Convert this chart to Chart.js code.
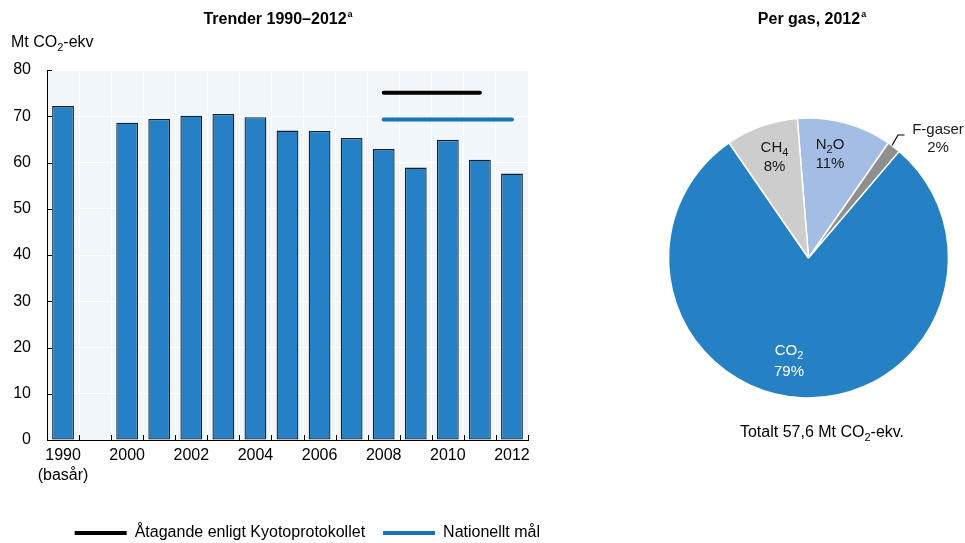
<!DOCTYPE html>
<html>
<head>
<meta charset="utf-8">
<script src="https://cdn.jsdelivr.net/npm/chart.js@4.4.0/dist/chart.umd.min.js"></script>
<style>
html, body { margin: 0; padding: 0; background: #fff; overflow: hidden; width: 965px; height: 543px; }
#trend { position: absolute; left: 0; top: 0; width: 558px; height: 551px; }
#gas { position: absolute; left: 557px; top: 0; width: 408px; height: 543px; }
</style>
</head>
<body>
<div id="trend"><canvas id="trendChart"></canvas></div>
<div id="gas"><canvas id="gasChart"></canvas></div>
<script>
// data
const years = ['1990', '', '2000', '2001', '2002', '2003', '2004', '2005', '2006', '2007', '2008', '2009', '2010', '2011', '2012'];
const emissions = [72.2, null, 68.6, 69.4, 70.1, 70.5, 69.8, 66.9, 66.8, 65.3, 62.9, 58.9, 64.9, 60.6, 57.6];
const kyotoTarget = [null, null, null, null, null, null, null, null, null, null, 75.1, 75.1, 75.1, 75.1, null];
const nationalTarget = [null, null, null, null, null, null, null, null, null, null, 69.3, 69.3, 69.3, 69.3, 69.3];
const xTickLabels = ['1990', '2000', '2002', '2004', '2006', '2008', '2010', '2012'];
const yMax = 80;
const yStep = 10;

const gases = ['N_2O', 'F-gaser', 'CO_2', 'CH_4'];
const gasMt = [6.3, 0.9, 45.6, 4.8];
const gasShare = ['11%', '2%', '79%', '8%'];

const FONT = '"Liberation Sans", Arial, sans-serif';
const BLUE = '#2681c4';

// draws text where "_2" means subscript 2
function drawChem(ctx, str, x, y, size, align, color) {
    const parts = str.split(/_(\d)/);
    const subSize = Math.round(size * 0.7);
    ctx.save();
    ctx.fillStyle = color;
    ctx.textBaseline = 'middle';
    ctx.textAlign = 'left';
    let w = 0;
    parts.forEach((p, i) => {
        ctx.font = (i % 2 ? subSize : size) + 'px ' + FONT;
        w += ctx.measureText(p).width;
    });
    let cx = align === 'center' ? x - w / 2 : x;
    parts.forEach((p, i) => {
        const sub = i % 2 === 1;
        ctx.font = (sub ? subSize : size) + 'px ' + FONT;
        ctx.fillText(p, cx, sub ? y + size * 0.3 : y);
        cx += ctx.measureText(p).width;
    });
    ctx.restore();
}

function drawTitle(ctx, text, cx, y) {
    ctx.save();
    ctx.font = 'bold 16px ' + FONT;
    const w = ctx.measureText(text).width;
    ctx.font = 'bold 9px ' + FONT;
    const aw = ctx.measureText('a').width;
    const x0 = cx - (w + aw + 1) / 2;
    ctx.fillStyle = '#000';
    ctx.textBaseline = 'middle';
    ctx.textAlign = 'left';
    ctx.font = 'bold 16px ' + FONT;
    ctx.fillText(text, x0, y);
    ctx.font = 'bold 9px ' + FONT;
    ctx.fillText('a', x0 + w + 1, y - 5);
    ctx.restore();
}

const trendDecor = {
    id: 'trendDecor',
    beforeDraw(chart) {
        const {ctx, chartArea: a} = chart;
        ctx.save();
        ctx.fillStyle = '#f0f6fa';
        ctx.fillRect(a.left, a.top, a.right - a.left, a.bottom - a.top);
        ctx.restore();
    },
    afterDraw(chart) {
        const {ctx, chartArea: a, scales} = chart;
        drawTitle(ctx, 'Trender 1990–2012', 278, 20);
        drawChem(ctx, 'Mt CO_2-ekv', 11, 43, 16, 'left', '#000');
        ctx.save();
        ctx.strokeStyle = '#000';
        ctx.lineWidth = 1;
        ctx.beginPath();
        for (let v = 0; v <= yMax; v += yStep) {
            const y = Math.round(scales.y.getPixelForValue(v)) + 0.5;
            ctx.moveTo(a.left, y);
            ctx.lineTo(a.left + 5, y);
        }
        for (let i = 0; i <= years.length; i++) {
            const x0 = scales.x.getPixelForValue(i - 0.5);
            const x = Math.round(x0) + 0.5;
            ctx.moveTo(x, a.bottom);
            ctx.lineTo(x, a.bottom - 5);
        }
        ctx.stroke();
        ctx.restore();
    }
};

new Chart(document.getElementById('trendChart'), {
    type: 'bar',
    data: {
        labels: years,
        datasets: [
            {
                label: 'Utsläpp',
                data: emissions,
                backgroundColor: BLUE,
                borderColor: '#16202c',
                borderWidth: 1.3,
                borderSkipped: false,
                barPercentage: 0.68,
                categoryPercentage: 1.0,
                order: 3
            },
            {
                type: 'line',
                label: 'Åtagande enligt Kyotoprotokollet',
                data: kyotoTarget,
                borderColor: '#000',
                backgroundColor: '#000',
                borderWidth: 4,
                borderCapStyle: 'round',
                pointRadius: 0,
                spanGaps: false,
                order: 1
            },
            {
                type: 'line',
                label: 'Nationellt mål',
                data: nationalTarget,
                borderColor: '#1874b4',
                backgroundColor: '#1874b4',
                borderWidth: 4,
                borderCapStyle: 'round',
                pointRadius: 0,
                spanGaps: false,
                order: 2
            }
        ]
    },
    options: {
        responsive: true,
        maintainAspectRatio: false,
        animation: false,
        layout: { padding: { left: 0, right: 0, top: 70, bottom: 0 } },
        plugins: {
            title: { display: false },
            tooltip: { enabled: false },
            legend: {
                position: 'bottom',
                align: 'end',
                labels: {
                    usePointStyle: true,
                    pointStyle: 'line',
                    pointStyleWidth: 52,
                    padding: 18,
                    color: '#000',
                    font: { family: FONT, size: 16 },
                    filter: item => item.datasetIndex > 0
                }
            }
        },
        scales: {
            x: {
                offset: true,
                grid: { color: '#ffffff', lineWidth: 1, drawTicks: false, offset: true },
                border: { color: '#000', width: 1 },
                ticks: {
                    autoSkip: false,
                    maxRotation: 0,
                    padding: 6,
                    color: '#000',
                    font: { family: FONT, size: 16, lineHeight: 1.25 },
                    callback: function (v) {
                        const lab = years[v];
                        if (!xTickLabels.includes(lab)) return '';
                        return lab === '1990' ? ['1990', '(basår)'] : lab;
                    }
                },
                afterFit: s => { s.height = 67; }
            },
            y: {
                min: 0,
                max: yMax,
                grid: { color: '#ffffff', lineWidth: 1, drawTicks: false },
                border: { color: '#000', width: 1 },
                ticks: {
                    stepSize: yStep,
                    padding: 16,
                    color: '#000',
                    font: { family: FONT, size: 16 }
                },
                afterFit: s => { s.width = 47; }
            },
            spacer: {
                position: 'right',
                grid: { display: false },
                border: { display: false },
                ticks: { display: false },
                afterFit: s => { s.width = 30; }
            }
        }
    },
    plugins: [trendDecor]
});

const gasDecor = {
    id: 'gasDecor',
    afterDraw(chart) {
        const ctx = chart.ctx;
        const arc = chart.getDatasetMeta(0).data[0];
        const cx = arc.x, cy = arc.y;
        drawTitle(ctx, 'Per gas, 2012', 255, 20);
        // N2O
        drawChem(ctx, gases[0], cx + 21.5, cy - 113, 15, 'center', '#1a1a1a');
        drawChem(ctx, gasShare[0], cx + 21.5, cy - 94, 15, 'center', '#1a1a1a');
        // CH4
        drawChem(ctx, gases[3], cx - 34, cy - 110, 15, 'center', '#1a1a1a');
        drawChem(ctx, gasShare[3], cx - 34, cy - 91, 15, 'center', '#1a1a1a');
        // CO2
        drawChem(ctx, gases[2], cx - 19.5, cy + 93, 15, 'center', '#ffffff');
        drawChem(ctx, gasShare[2], cx - 19.5, cy + 114, 15, 'center', '#ffffff');
        // F-gaser with leader
        drawChem(ctx, gases[1], cx + 129.5, cy - 128, 15, 'center', '#1a1a1a');
        drawChem(ctx, gasShare[1], cx + 129.5, cy - 110, 15, 'center', '#1a1a1a');
        ctx.save();
        ctx.strokeStyle = '#000';
        ctx.lineWidth = 1.2;
        ctx.beginPath();
        ctx.moveTo(cx + 83.5, cy - 112.5);
        ctx.lineTo(cx + 89.5, cy - 123);
        ctx.lineTo(cx + 96, cy - 123);
        ctx.stroke();
        ctx.restore();
        drawChem(ctx, 'Totalt 57,6 Mt CO_2-ekv.', 265, 433, 16, 'center', '#000');
    }
};

new Chart(document.getElementById('gasChart'), {
    type: 'pie',
    data: {
        labels: gases,
        datasets: [{
            data: gasMt,
            backgroundColor: ['#a3bde4', '#8f8f8f', BLUE, '#cdcdcd'],
            borderColor: '#ffffff',
            borderWidth: 1.5
        }]
    },
    options: {
        responsive: true,
        maintainAspectRatio: false,
        animation: false,
        rotation: -4.6,
        radius: 140,
        layout: { padding: { left: 111, right: 16, top: 117.5, bottom: 144.5 } },
        plugins: {
            legend: { display: false },
            title: { display: false },
            tooltip: { enabled: false }
        }
    },
    plugins: [gasDecor]
});
</script>
</body>
</html>
